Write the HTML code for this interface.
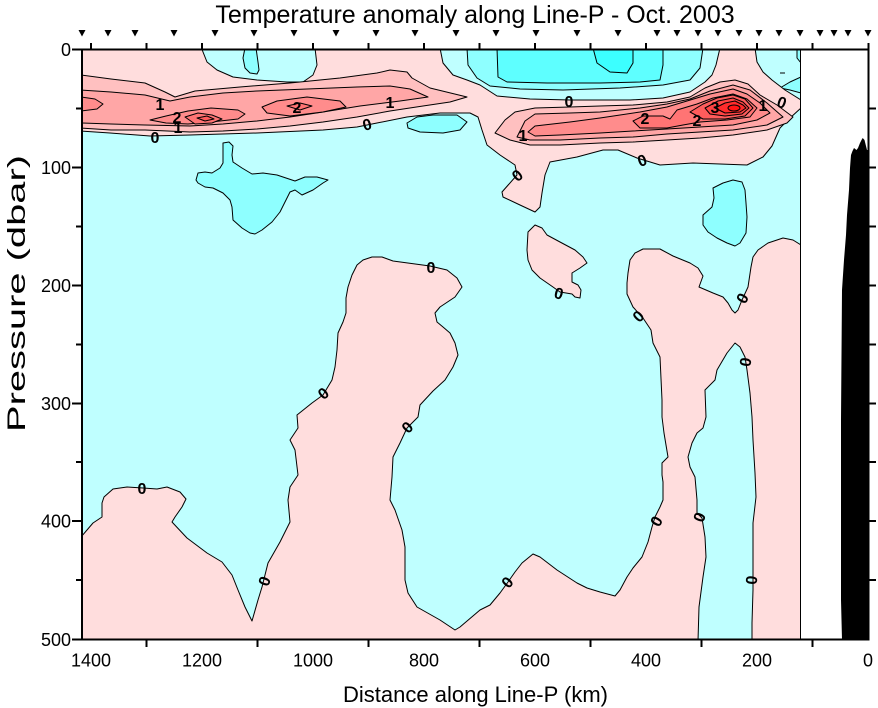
<!DOCTYPE html>
<html><head><meta charset="utf-8"><style>
html,body{margin:0;padding:0;background:#fff;width:878px;height:708px;overflow:hidden}
svg{display:block}
</style></head><body>
<svg width="878" height="708" viewBox="0 0 878 708" xmlns="http://www.w3.org/2000/svg" font-family="'Liberation Sans', Arial, sans-serif">
<defs><clipPath id="pc"><rect x="82" y="49.5" width="718.5" height="590"/></clipPath></defs>
<rect width="878" height="708" fill="#fff"/>
<g clip-path="url(#pc)" stroke="#000" stroke-width="1" stroke-linejoin="round">
<rect x="82" y="49.5" width="718.5" height="590" fill="#bfffff" stroke="none"/>
<polygon fill="#8effff" points="223,143 229,142 233,146 232,155 233,162 242,168 252,174 263,173 277,175 295,181 305,177 317,177 328,180 323,183 313,190 302,195 295,190 290,192 280,212 272,222 262,230 255,234 250,233 242,228 233,220 232,207 230,200 223,193 213,188 205,187 198,183 196,180 198,173 205,172 212,173 220,168 223,163 223,150"/>
<polygon fill="#8effff" points="713,188 723,183 733,180 742,182 745,190 746,203 747,217 746,233 740,243 735,246 727,243 717,238 708,232 703,225 703,215 712,207 714,198"/>
<polygon fill="#8effff" points="407,123 417,117 433,115 457,115 467,122 460,130 443,133 420,132 408,128"/>
<polygon fill="#8effff" points="780,88 790,82 801,77 801,93 790,90"/>
<polygon fill="#8effff" points="797,48 797,58 801,63 801,48"/>
<polygon fill="#8effff" points="467,48 468,65 477,78 490,86 520,89 563,90 620,88 663,85 690,80 700,68 703,48"/>
<polygon fill="#5effff" points="497,48 498,77 507,82 547,83 600,83 640,82 660,80 663,65 663,48"/>
<polygon fill="#3cffff" points="593,48 597,63 610,72 627,73 633,63 633,48"/>
<polygon fill="#ffdddd" points="81,48 202,48 202,49.5 207,62 217,70 233,77 257,80 287,82 303,82 313,75 317,65 315,48 440,48 443,63 453,75 467,80 480,85 497,96 530,99 570,100 630,100 663,98 690,92 705,82 712,75 716,65 720,48 755,48 757,62 763,72 772,80 785,90 801,100 801,108 790,118 780,128 772,146 763,157 747,165 693,163 660,165 637,158 618,150 603,150 577,157 550,162 545,175 542,193 540,207 535,212 520,205 503,197 502,192 517,175 515,165 500,155 487,145 482,130 478,117 470,113 440,113 407,117 377,123 357,127 323,130 257,133 190,135 150,136 110,133 81,131"/>
<polygon fill="#8effff" points="245,48 243,58 245,68 250,73 257,74 259,70 258,62 256,48"/>
<polygon fill="#ffdddd" points="81,641 81,537 87,530 93,523 102,517 102,503 104,497 113,489 127,487 143,488 157,489 167,487 180,492 186,499 182,507 175,517 172,522 187,538 207,553 222,562 232,575 238,590 245,607 252,621 258,600 262,587 268,563 280,542 290,522 288,500 290,487 298,475 295,450 290,440 298,428 297,415 312,403 323,395 332,380 335,367 337,350 338,333 343,322 346,313 346,298 348,287 352,275 357,265 363,260 372,257 382,257 393,261 430,266 447,270 457,278 462,287 455,297 440,307 435,313 437,322 443,327 450,333 455,343 458,355 453,367 445,380 433,391 420,405 418,417 407,428 400,443 393,457 392,477 390,500 395,510 402,530 405,547 405,580 408,593 417,607 440,620 455,630 460,627 480,610 490,605 500,593 508,582 515,572 522,563 533,554 540,557 557,570 577,583 587,588 600,592 615,596 620,590 627,577 633,568 642,557 648,542 652,527 655,517 660,507 663,500 663,482 662,475 662,463 668,457 664,433 662,417 662,400 660,357 653,343 651,330 643,318 633,307 627,294 627,283 628,273 630,260 635,253 643,249 660,249 673,256 690,263 698,268 703,276 699,287 713,293 723,297 728,303 732,310 735,313 738,310 742,300 748,287 751,267 753,257 758,250 768,243 783,238 793,240 801,245 801,641"/>
<polygon fill="#bfffff" points="698,641 699,607 703,577 706,557 705,537 702,518 697,513 697,500 695,477 690,467 688,457 692,443 697,433 703,428 706,417 705,390 715,380 717,370 727,353 735,343 740,347 745,357 747,370 750,393 752,417 753,440 755,473 756,497 753,523 753,557 753,590 752,623 752,641"/>
<polygon fill="#ffdddd" points="527,250 528,232 535,225 542,228 547,235 560,242 575,250 583,257 587,263 580,268 572,273 572,282 578,285 581,290 580,298 575,297 572,294 560,292 553,287 540,278 532,270 528,260"/>
<polygon fill="#ffc0c0" points="81,75 111,79 145,83 165,92 175,97 195,91 240,87 290,83 340,78 377,73 390,70 407,72 412,78 430,88 467,97 450,102 423,106 390,111 357,117 323,122 290,126 257,129 223,131 190,132 145,130 111,130 81,128"/>
<polygon fill="#ffa6a6" points="81,90 111,92 145,95 170,101 190,97 223,93 257,91 307,89 357,87 390,86 410,89 428,97 400,101 360,106 323,112 290,117 257,121 223,124 190,126 145,125 111,124 81,123"/>
<polygon fill="#ff8c8c" points="81,97 95,99 103,104 97,109 81,111"/>
<polygon fill="#ff8c8c" points="150,120 166,116 188,111 211,108 238,110 245,114 238,119 211,122 188,124 166,123"/>
<polygon fill="#ff8c8c" points="262,107 277,101 307,97 340,101 346,107 323,112 290,116 267,113"/>
<polygon fill="#ff7474" points="185,117 198,113 212,115 222,119 212,123 195,124"/>
<polygon fill="#ff7474" points="287,106 300,103 312,106 300,110"/>
<polygon fill="#ff5c5c" points="197,118 207,116 214,119 205,121"/>
<polygon fill="#ffc0c0" points="495,133 505,120 515,112 535,108 570,107 600,106 633,105 667,102 690,97 705,88 720,82 735,80 748,84 760,95 777,105 793,117 787,123 767,130 733,135 700,138 667,140 633,142 600,143 560,145 530,145 510,140"/>
<polygon fill="#ffa6a6" points="517,137 525,121 535,114 570,113 600,112 640,108 667,104 690,99 710,91 733,85 750,90 767,103 783,117 767,125 733,130 700,132 667,134 633,137 600,138 560,140 530,140"/>
<polygon fill="#ff8c8c" points="528,132 535,126 570,122 600,118 640,112 667,107 687,101 710,94 733,89 747,94 760,103 770,113 757,120 733,125 700,127 667,129 633,131 600,133 560,135 535,136"/>
<polygon fill="#ff7474" points="633,121 643,116 663,116 670,119 677,110 697,104 713,98 733,94 747,99 757,108 750,117 727,120 700,122 683,125 667,128 640,128"/>
<polygon fill="#ff5c5c" points="690,112 703,104 717,98 733,95 745,99 753,108 745,116 725,119 703,119"/>
<polygon fill="#ff4444" points="705,108 718,101 733,98 743,102 749,108 742,114 725,116 710,114"/>
<polygon fill="#ff2c2c" points="715,108 725,103 735,101 743,105 746,108 740,112 725,113"/>
<ellipse cx="734" cy="108" rx="6" ry="3" fill="#ff1616"/>
<line x1="780" y1="73" x2="785" y2="73"/>
</g>
<g font-size="16" font-weight="bold" text-anchor="middle" fill="#000">
<text x="155" y="143">0</text><text x="367" y="130" transform="rotate(-15 367 124)">0</text>
<text x="569" y="107">0</text><text x="642" y="166" transform="rotate(-20 642 160)">0</text>
<text x="782" y="108" transform="rotate(20 782 102)">0</text>
<text x="517" y="181" transform="rotate(-40 517 175)">0</text>
<text x="559" y="299" transform="rotate(15 559 293)">0</text>
<text x="638" y="322" transform="rotate(-45 638 316)">0</text>
<text x="742" y="304" transform="rotate(-60 742 298)">0</text>
<text x="745" y="368" transform="rotate(-80 745 362)">0</text>
<text x="431" y="273">0</text>
<text x="323" y="399" transform="rotate(-40 323 393)">0</text>
<text x="407" y="433" transform="rotate(-45 407 427)">0</text>
<text x="142" y="494">0</text>
<text x="264" y="587" transform="rotate(-70 264 581)">0</text>
<text x="507" y="588" transform="rotate(-50 507 582)">0</text>
<text x="656" y="527" transform="rotate(-60 656 521)">0</text>
<text x="699" y="523" transform="rotate(-70 699 517)">0</text>
<text x="751" y="586" transform="rotate(-85 751 580)">0</text>
<text x="160" y="110">1</text><text x="178" y="133">1</text>
<text x="390" y="108">1</text><text x="523" y="141">1</text><text x="763" y="111">1</text>
<text x="177" y="123">2</text><text x="297" y="113">2</text>
<text x="645" y="124">2</text><text x="697" y="126">2</text><text x="715" y="113">3</text>
</g>
<rect x="801" y="50" width="67" height="589" fill="#fff"/>
<polygon fill="#000" points="842,639.5 841,600 841,420 842,290 844,260 846,235 847,215 849,190 850,168 851,155 852.5,151 854,148 856.5,150 858,148 860,143 861.5,140 862.7,138 864.5,140 866,146 867,150 868,150 868,639.5"/>
<line x1="800.5" y1="49.5" x2="800.5" y2="639.5" stroke="#000" stroke-width="1"/>
<g stroke="#000" stroke-width="2" fill="none">
<rect x="82" y="49.5" width="786.5" height="590"/>
<path d="M91 43V49.5M146.5 43V49.5M202 43V49.5M257.5 43V49.5M313 43V49.5M368.5 43V49.5M424 43V49.5M479.5 43V49.5M535 43V49.5M590.5 43V49.5M646 43V49.5M701.5 43V49.5M757 43V49.5M812.5 43V49.5M868.5 43V49.5"/>
<path d="M146.5 639.5V647M257.5 639.5V647M368.5 639.5V647M479.5 639.5V647M590.5 639.5V647M701.5 639.5V647M812.5 639.5V647"/>
<path d="M72 49.5H82M72 167.5H82M72 285.5H82M72 403.5H82M72 521H82M72 639.5H82M76 108.5H82M76 226.5H82M76 344.5H82M76 462H82M76 580H82"/>
<path d="M868.5 108.5H876M868.5 167.5H876M868.5 226.5H876M868.5 285.5H876M868.5 344.5H876M868.5 403.5H876M868.5 462H876M868.5 521H876M868.5 580H876"/>
</g>
<g fill="#000">
<polygon points="78.5,30 85.5,30 82,36.5"/><polygon points="104.5,30 111.5,30 108,36.5"/><polygon points="131.5,30 138.5,30 135,36.5"/><polygon points="170.5,30 177.5,30 174,36.5"/><polygon points="211.5,30 218.5,30 215,36.5"/><polygon points="250.5,30 257.5,30 254,36.5"/><polygon points="290.5,30 297.5,30 294,36.5"/><polygon points="332.5,30 339.5,30 336,36.5"/><polygon points="372.5,30 379.5,30 376,36.5"/><polygon points="411.5,30 418.5,30 415,36.5"/><polygon points="452.5,30 459.5,30 456,36.5"/><polygon points="492.5,30 499.5,30 496,36.5"/><polygon points="532.5,30 539.5,30 536,36.5"/><polygon points="573.5,30 580.5,30 577,36.5"/><polygon points="614.5,30 621.5,30 618,36.5"/><polygon points="653.5,30 660.5,30 657,36.5"/><polygon points="673.5,30 680.5,30 677,36.5"/><polygon points="694.5,30 701.5,30 698,36.5"/><polygon points="714.5,30 721.5,30 718,36.5"/><polygon points="735.5,30 742.5,30 739,36.5"/><polygon points="755.5,30 762.5,30 759,36.5"/><polygon points="775.5,30 782.5,30 779,36.5"/><polygon points="796.5,30 803.5,30 800,36.5"/><polygon points="816.5,30 823.5,30 820,36.5"/><polygon points="830.5,30 837.5,30 834,36.5"/><polygon points="844.5,30 851.5,30 848,36.5"/><polygon points="864.5,30 871.5,30 868,36.5"/>
</g>
<text x="475" y="23" font-size="25" text-anchor="middle" fill="#000">Temperature anomaly along Line-P - Oct. 2003</text>
<g font-size="18" fill="#000" text-anchor="end">
<text x="71" y="56">0</text><text x="71" y="174">100</text><text x="71" y="292">200</text><text x="71" y="410">300</text><text x="71" y="527.5">400</text><text x="71" y="646">500</text>
</g>
<g font-size="18" fill="#000" text-anchor="middle">
<text x="91" y="666.5">1400</text><text x="202" y="666.5">1200</text><text x="313" y="666.5">1000</text><text x="424" y="666.5">800</text><text x="535" y="666.5">600</text><text x="646" y="666.5">400</text><text x="757" y="666.5">200</text><text x="868" y="666.5">0</text>
</g>
<text x="475.5" y="702" font-size="22" text-anchor="middle" fill="#000">Distance along Line-P (km)</text>
<text transform="translate(25,293.5) rotate(-90)" font-size="25" text-anchor="middle" textLength="277" lengthAdjust="spacingAndGlyphs" fill="#000">Pressure (dbar)</text>
</svg>
</body></html>
